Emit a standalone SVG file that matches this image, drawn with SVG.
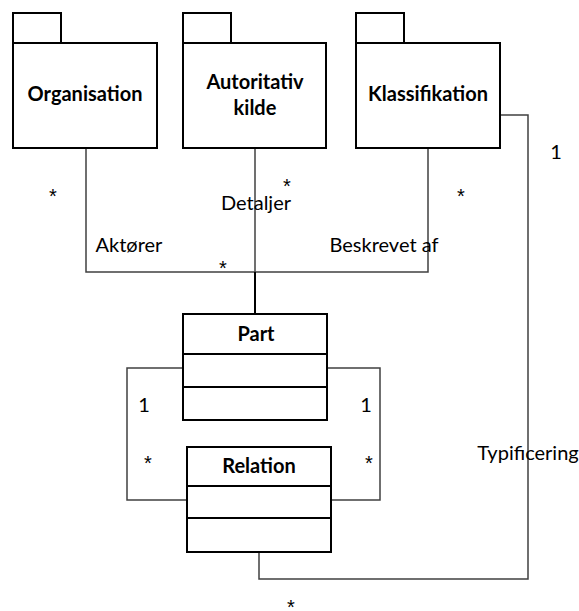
<svg xmlns="http://www.w3.org/2000/svg" width="579" height="611" viewBox="0 0 579 611">
  <style>
    .box { fill: #ffffff; stroke: #000000; stroke-width: 2; }
    .wire { fill: none; stroke: #404040; stroke-width: 1.5; }
    .wire-strong { fill: none; stroke: #000000; stroke-width: 2; }
    .title { font-family: Lato, "Open Sans", "Liberation Sans", sans-serif; font-size: 20px; font-weight: bold; fill: #000000; text-anchor: middle; }
    .label { font-family: Lato, "Open Sans", "Liberation Sans", sans-serif; font-size: 20px; fill: #000000; text-anchor: middle; }
    .mult { font-family: "Liberation Sans", Arial, sans-serif; font-size: 20px; fill: #000000; text-anchor: middle; }
  </style>
  <rect width="579" height="611" fill="#ffffff"/>

  <!-- connectors -->
  <g id="connectors">
    <!-- Organisation / Klassifikation bus -->
    <polyline class="wire" points="86,148 86,272 428,272 428,148"/>
    <!-- Autoritativ kilde down to the bus -->
    <line class="wire" x1="255" y1="148" x2="255" y2="272"/>
    <!-- bus down to Part -->
    <line class="wire-strong" x1="255" y1="272" x2="255" y2="314"/>
    <!-- Part / Relation loops -->
    <polyline class="wire" points="183,368 127,368 127,500 187,500"/>
    <polyline class="wire" points="327,368 380,368 380,500 331,500"/>
    <!-- Typificering: Relation to Klassifikation -->
    <polyline class="wire" points="259,552 259,579 528,579 528,115 500,115"/>
  </g>

  <!-- packages -->
  <g id="organisation">
    <rect class="box" x="13" y="13" width="48" height="30"/>
    <rect class="box" x="13" y="43" width="144" height="105"/>
    <text class="title" x="85" y="101">Organisation</text>
  </g>
  <g id="autoritativ-kilde">
    <rect class="box" x="183" y="13" width="48" height="30"/>
    <rect class="box" x="183" y="43" width="143" height="105"/>
    <text class="title" x="255" y="89">Autoritativ</text>
    <text class="title" x="255" y="115">kilde</text>
  </g>
  <g id="klassifikation">
    <rect class="box" x="356" y="13" width="48" height="30"/>
    <rect class="box" x="356" y="43" width="144" height="105"/>
    <text class="title" x="428" y="101">Klassifikation</text>
  </g>

  <!-- classes -->
  <g id="part">
    <rect class="box" x="183" y="314" width="144" height="106"/>
    <line class="box" x1="183" y1="354" x2="327" y2="354"/>
    <line class="box" x1="183" y1="387" x2="327" y2="387"/>
    <text class="title" x="256" y="341">Part</text>
  </g>
  <g id="relation">
    <rect class="box" x="187" y="447" width="144" height="105"/>
    <line class="box" x1="187" y1="486" x2="331" y2="486"/>
    <line class="box" x1="187" y1="518" x2="331" y2="518"/>
    <text class="title" x="259" y="473">Relation</text>
  </g>

  <!-- association labels and multiplicities -->
  <g id="labels">
    <text class="label" x="129" y="252">Aktører</text>
    <text class="label" x="256" y="210">Detaljer</text>
    <text class="label" x="384" y="252">Beskrevet af</text>
    <text class="label" x="528" y="460">Typificering</text>

    <text class="mult" x="53" y="203">*</text>
    <text class="mult" x="287" y="193">*</text>
    <text class="mult" x="223" y="275">*</text>
    <text class="mult" x="461" y="203">*</text>
    <text class="label" x="556" y="159">1</text>

    <text class="label" x="144" y="412">1</text>
    <text class="label" x="366" y="412">1</text>
    <text class="mult" x="148" y="470">*</text>
    <text class="mult" x="369" y="470">*</text>
    <text class="mult" x="291" y="614">*</text>
  </g>
</svg>
